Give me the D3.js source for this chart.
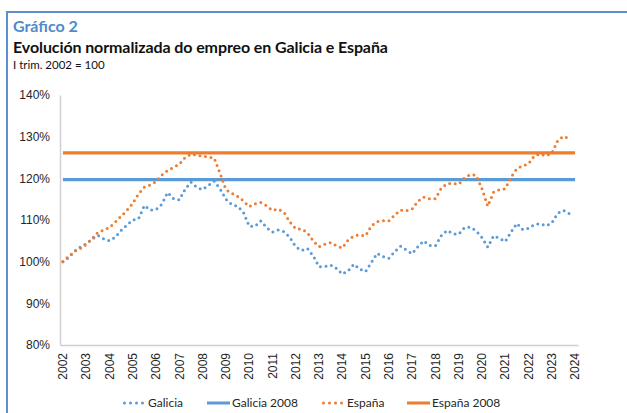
<!DOCTYPE html>
<html>
<head>
<meta charset="utf-8">
<script src="https://cdn.jsdelivr.net/npm/d3@7"></script>
<style>
    body { margin: 0; background: #fff; }
    svg { display: block; font-family: Lato, "Open Sans", sans-serif; }
    .tick-label { font-size: 12px; fill: #262626; }
    .legend-label { font-size: 12px; fill: #262626; }
</style>
</head>
<body>
<svg id="chart"></svg>
<script>
// years on the category axis (one label per year, four quarters each)
const years = [2002, 2003, 2004, 2005, 2006, 2007, 2008, 2009, 2010, 2011, 2012,
    2013, 2014, 2015, 2016, 2017, 2018, 2019, 2020, 2021, 2022, 2023, 2024];

// quarterly index, I trim. 2002 = 100 (2002Q1 .. 2023Q4)
const galicia = [
    100.0, 101.0, 102.5, 103.5, 104.3, 105.4, 106.3, 105.5,
    105.0, 105.9, 107.5, 108.8, 110.0, 110.3, 113.5, 112.4,
    112.5, 113.8, 116.6, 115.1, 114.8, 117.4, 119.1, 117.8,
    117.3, 118.3, 119.3, 117.5, 115.0, 113.7, 113.3, 111.9,
    108.5, 108.5, 109.8, 108.2, 107.1, 107.6, 107.2, 105.8,
    103.6, 102.7, 103.2, 101.4, 98.8, 98.8, 99.2, 98.4,
    97.0, 97.8, 99.4, 98.2, 97.6, 99.8, 102.0, 101.2,
    100.8, 102.4, 103.7, 102.8, 101.9, 103.6, 105.0, 103.9,
    103.8, 106.2, 107.5, 106.7, 106.6, 108.2, 108.3, 107.4,
    105.8, 103.5, 106.2, 105.6, 104.8, 107.1, 109.2, 107.7,
    108.0, 108.9, 109.1, 108.6, 109.3, 111.6, 112.3, 111.5
];

const espana = [
    100.0, 101.3, 102.5, 103.2, 104.1, 105.5, 107.0, 107.6,
    108.2, 109.5, 110.9, 112.3, 114.0, 116.3, 117.9, 118.4,
    119.2, 120.8, 121.9, 122.6, 123.4, 125.0, 125.8, 125.6,
    125.3, 125.2, 124.8, 121.2, 117.3, 116.4, 115.7, 114.6,
    113.2, 113.9, 114.2, 113.4, 112.3, 112.6, 111.8, 109.5,
    107.9, 107.8, 107.0, 105.0, 103.6, 104.2, 104.6, 103.8,
    103.3, 105.2, 106.2, 106.4, 106.2, 108.6, 109.6, 109.8,
    109.8, 111.2, 112.4, 112.2, 112.6, 114.5, 115.5, 115.1,
    115.1, 117.6, 118.7, 118.8, 118.6, 120.1, 120.9, 120.7,
    117.5, 113.3, 116.7, 117.3, 117.5, 120.3, 122.3, 123.0,
    123.5, 125.4, 125.8, 125.4, 126.0, 129.0, 130.1, 129.5
];

// 2008 reference levels
const galicia2008 = 119.7;
const espana2008 = 126.1;

const yTicks = [80, 90, 100, 110, 120, 130, 140];

const legendItems = [
    { label: 'Galicia', color: '#5b9bd5', dotted: true },
    { label: 'Galicia 2008', color: '#5b9bd5', dotted: false },
    { label: 'España', color: '#ed7d31', dotted: true },
    { label: 'España 2008', color: '#ed7d31', dotted: false }
];

class EmploymentChart {
    constructor(_config) {
        this.config = {
            parentElement: _config.parentElement,
            containerWidth: _config.containerWidth || 627,
            containerHeight: _config.containerHeight || 413,
            margin: { top: 95, right: 49, bottom: 68, left: 60 }
        };
        this.initVis();
    }

    initVis() {
        let vis = this;

        vis.width = vis.config.containerWidth - vis.config.margin.left - vis.config.margin.right;
        vis.height = vis.config.containerHeight - vis.config.margin.top - vis.config.margin.bottom;

        vis.svg = d3.select(vis.config.parentElement)
            .attr('width', vis.config.containerWidth)
            .attr('height', vis.config.containerHeight);

        // frame: blue rule on top and left
        vis.svg.append('path')
            .attr('d', `M7,${vis.config.containerHeight} V12 H${vis.config.containerWidth}`)
            .attr('fill', 'none')
            .attr('stroke', '#5b8fd0')
            .attr('stroke-width', 2);

        vis.svg.append('text')
            .attr('x', 13).attr('y', 32)
            .attr('font-size', 16).attr('font-weight', 700)
            .attr('fill', '#4f8ac9')
            .text('Gráfico 2');

        vis.svg.append('text')
            .attr('x', 13).attr('y', 53)
            .attr('font-size', 16).attr('font-weight', 700)
            .attr('fill', '#111')
            .attr('letter-spacing', -0.1)
            .text('Evolución normalizada do empreo en Galicia e España');

        vis.svg.append('text')
            .attr('x', 13).attr('y', 69)
            .attr('font-size', 11.5)
            .attr('fill', '#111')
            .text('I trim. 2002 = 100');

        vis.chart = vis.svg.append('g')
            .attr('transform', `translate(${vis.config.margin.left},${vis.config.margin.top})`);

        vis.updateVis();
    }

    updateVis() {
        let vis = this;

        // one category per quarter, 2002Q1 .. 2024Q1
        vis.categories = [];
        years.forEach(y => {
            [1, 2, 3, 4].forEach(q => {
                if (y < 2024 || q === 1) vis.categories.push(`${y}Q${q}`);
            });
        });

        vis.xScale = d3.scaleBand()
            .domain(vis.categories)
            .range([0, vis.width]);

        vis.yScale = d3.scaleLinear()
            .domain([80, 140])
            .range([vis.height, 0]);

        vis.xPos = key => vis.xScale(key) + vis.xScale.bandwidth() / 2;

        vis.renderVis();
    }

    renderVis() {
        let vis = this;

        // y axis
        const yAxis = d3.axisLeft(vis.yScale)
            .tickValues(yTicks)
            .tickSize(0)
            .tickPadding(10)
            .tickFormat(d => d + '%');

        const yAxisG = vis.chart.append('g').call(yAxis);
        yAxisG.select('.domain').attr('stroke', '#d0d0d0').attr('stroke-width', 1.5);
        yAxisG.selectAll('text').attr('class', 'tick-label').attr('font-family', null).attr('font-size', null);

        // x axis, labels on the first quarter of each year
        const xAxis = d3.axisBottom(vis.xScale)
            .tickValues(years.map(y => `${y}Q1`))
            .tickSize(0)
            .tickFormat(d => d.slice(0, 4));

        const xAxisG = vis.chart.append('g')
            .attr('transform', `translate(0,${vis.height})`)
            .call(xAxis);
        xAxisG.select('.domain').attr('stroke', '#d0d0d0').attr('stroke-width', 1.5);
        xAxisG.selectAll('text')
            .attr('class', 'tick-label')
            .attr('font-family', null).attr('font-size', null)
            .attr('transform', 'rotate(-90)')
            .attr('text-anchor', 'end')
            .attr('x', -8)
            .attr('y', 0)
            .attr('dy', '0.35em');

        // 2008 reference lines
        const first = vis.categories[0];
        const last = vis.categories[vis.categories.length - 1];
        [[galicia2008, '#5b9bd5'], [espana2008, '#ed7d31']].forEach(([v, c]) => {
            vis.chart.append('line')
                .attr('x1', vis.xPos(first)).attr('x2', vis.xPos(last))
                .attr('y1', vis.yScale(v)).attr('y2', vis.yScale(v))
                .attr('stroke', c)
                .attr('stroke-width', 3.2);
        });

        // dotted series
        const line = d3.line()
            .x((d, i) => vis.xPos(vis.categories[i]))
            .y(d => vis.yScale(d));

        [[galicia, '#5b9bd5'], [espana, '#ed7d31']].forEach(([s, c]) => {
            vis.chart.append('path')
                .datum(s)
                .attr('d', line)
                .attr('fill', 'none')
                .attr('stroke', c)
                .attr('stroke-width', 3)
                .attr('stroke-linecap', 'round')
                .attr('stroke-dasharray', '0 5.6');
        });

        // legend
        const legendX = [123, 207, 322, 407];
        const legend = vis.svg.append('g')
            .attr('transform', 'translate(0,403)');

        legendItems.forEach((d, i) => {
            const g = legend.append('g').attr('transform', `translate(${legendX[i]},0)`);
            g.append('line')
                .attr('x1', d.dotted ? 1.5 : 0).attr('x2', 23)
                .attr('stroke', d.color)
                .attr('stroke-width', 3)
                .attr('stroke-linecap', d.dotted ? 'round' : 'butt')
                .attr('stroke-dasharray', d.dotted ? '0 6' : null);
            g.append('text')
                .attr('class', 'legend-label')
                .attr('x', 25)
                .attr('dy', '0.35em')
                .text(d.label);
        });
    }
}

new EmploymentChart({ parentElement: '#chart' });
</script>
</body>
</html>
